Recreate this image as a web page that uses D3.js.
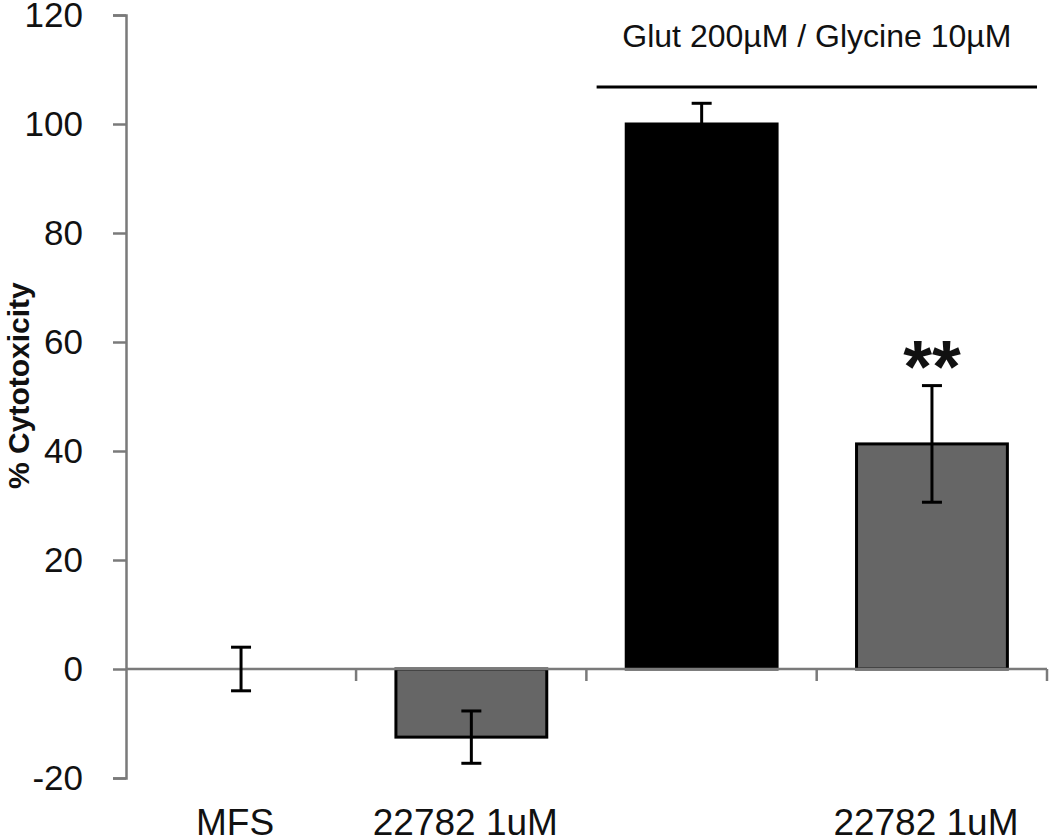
<!DOCTYPE html>
<html>
<head>
<meta charset="utf-8">
<script src="https://cdn.jsdelivr.net/npm/d3@7"></script>
<style>
  body { margin: 0; background: #fff; }
  text { font-family: "Liberation Sans", Arial, sans-serif; }
</style>
</head>
<body>
<svg class="chart"></svg>
<script>
// set data
var categories = ["MFS", "22782", "Glut", "Glut+22782"];
var xLabels = ["MFS", "22782 1uM", "", "22782 1uM"];
var values = [0, -12.5, 100, 41.3];
var errors = [4, 4.8, 3.8, 10.7];
var colors = ["#666666", "#666666", "#000000", "#666666"];
var stars = ["", "", "", "**"];
var yTicks = [-20, 0, 20, 40, 60, 80, 100, 120];
var groupLabel = "Glut 200\u00b5M / Glycine 10\u00b5M";
var groupCats = ["Glut", "Glut+22782"];

// set size
var width = 1050, height = 840;
var margin = {top: 15, right: 3, bottom: 62, left: 126};

var svg = d3.select(".chart")
    .attr("width", width)
    .attr("height", height);

var x = d3.scaleBand()
    .domain(categories)
    .range([margin.left, width - margin.right])
    .paddingInner(0.345)
    .paddingOuter(0.172);

var y = d3.scaleLinear()
    .domain([-20, 120])
    .range([height - margin.bottom, margin.top]);

var step = x.step();

// y axis
var yAxis = svg.append("g")
    .attr("transform", "translate(" + margin.left + ",0)")
    .call(d3.axisLeft(y).tickValues(yTicks).tickSize(13).tickSizeOuter(13).tickPadding(30)
      .tickFormat(function(d) { return String(d); }));
yAxis.select(".domain").attr("stroke", "#7a7a7a").attr("stroke-width", 2.5);
yAxis.selectAll(".tick line").attr("stroke", "#7a7a7a").attr("stroke-width", 2.5);
yAxis.selectAll(".tick text")
    .attr("font-size", 35)
    .attr("fill", "#111")
    .style("font-family", "Liberation Sans, Arial, sans-serif");

// y title
svg.append("text")
    .attr("transform", "translate(" + 29 + "," + y(52) + ") rotate(-90)")
    .attr("text-anchor", "middle")
    .attr("font-size", 30)
    .attr("font-weight", "bold")
    .attr("fill", "#111")
    .text("% Cytotoxicity");

// bars
var bars = svg.append("g");
bars.selectAll("rect")
    .data(categories)
    .enter().append("rect")
    .attr("x", function(d) { return x(d); })
    .attr("width", x.bandwidth())
    .attr("y", function(d, i) { return y(Math.max(0, values[i])); })
    .attr("height", function(d, i) { return Math.abs(y(values[i]) - y(0)); })
    .attr("fill", function(d, i) { return colors[i]; })
    .attr("stroke", "#000")
    .attr("stroke-width", function(d, i) { return values[i] === 0 ? 0 : 3; });

// x axis line at zero and boundary ticks
var xAxis = svg.append("g");
xAxis.append("line")
    .attr("x1", margin.left).attr("x2", width - margin.right)
    .attr("y1", y(0)).attr("y2", y(0))
    .attr("stroke", "#7a7a7a").attr("stroke-width", 2.5);
xAxis.selectAll(".xtick")
    .data(categories)
    .enter().append("line")
    .attr("class", "xtick")
    .attr("x1", function(d) { return x(d) + x.bandwidth() + x.paddingOuter() * step; })
    .attr("x2", function(d) { return x(d) + x.bandwidth() + x.paddingOuter() * step; })
    .attr("y1", y(0)).attr("y2", y(0) + 12)
    .attr("stroke", "#7a7a7a").attr("stroke-width", 2.5);

// error bars
var err = svg.append("g").attr("stroke", "#000").attr("stroke-width", 3);
categories.forEach(function(d, i) {
  var cx = x(d) + x.bandwidth() / 2;
  var top = y(values[i] + errors[i]), bot = y(values[i] - errors[i]);
  err.append("line").attr("x1", cx).attr("x2", cx).attr("y1", top).attr("y2", bot);
  err.append("line").attr("x1", cx - 10).attr("x2", cx + 10).attr("y1", top).attr("y2", top);
  err.append("line").attr("x1", cx - 10).attr("x2", cx + 10).attr("y1", bot).attr("y2", bot);
});

// significance stars
svg.selectAll(".star")
    .data(categories)
    .enter().append("text")
    .attr("class", "star")
    .attr("x", function(d) { return x(d) + x.bandwidth() / 2; })
    .attr("y", function(d, i) { return y(values[i] + errors[i]) + 6; })
    .attr("text-anchor", "middle")
    .attr("font-size", 74)
    .attr("font-weight", "bold")
    .attr("fill", "#111")
    .text(function(d, i) { return stars[i]; });

// x labels
svg.selectAll(".xlabel")
    .data(categories)
    .enter().append("text")
    .attr("class", "xlabel")
    .attr("x", function(d) { return x(d) + x.bandwidth() / 2 - 6; })
    .attr("y", height - 5)
    .attr("text-anchor", "middle")
    .attr("font-size", 37)
    .attr("fill", "#111")
    .text(function(d, i) { return xLabels[i]; });

// group bracket
var gx1 = x(groupCats[0]) - x.paddingOuter() * step + 10;
var gx2 = x(groupCats[1]) + x.bandwidth() + x.paddingOuter() * step - 10;
svg.append("line")
    .attr("x1", gx1).attr("x2", gx2)
    .attr("y1", 87).attr("y2", 87)
    .attr("stroke", "#000").attr("stroke-width", 3);
svg.append("text")
    .attr("x", (gx1 + gx2) / 2)
    .attr("y", 47)
    .attr("text-anchor", "middle")
    .attr("font-size", 32)
    .attr("fill", "#111")
    .text(groupLabel);
</script>
</body>
</html>
